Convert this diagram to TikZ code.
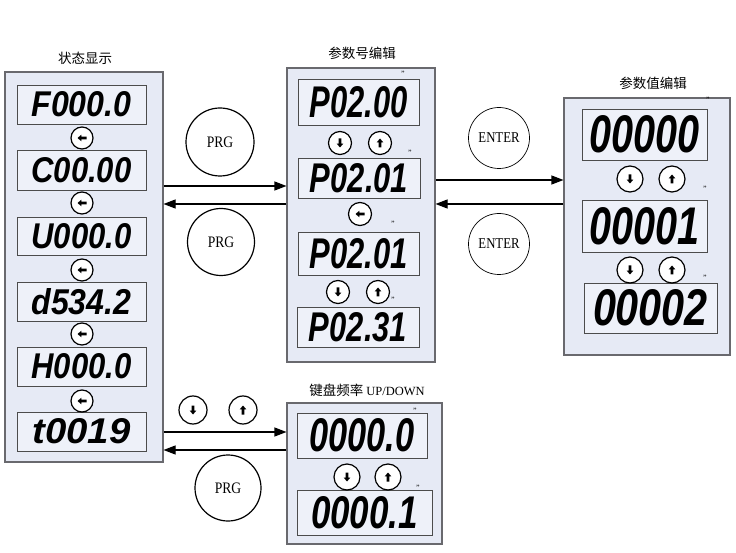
\documentclass[tikz,border=0pt]{standalone}
\usepackage{fontspec}
\setmainfont{Liberation Serif}
\newfontfamily\cjk{Noto Sans CJK SC}
\newfontfamily\lcd{Liberation Sans}
\newfontfamily\btnfont[FakeStretch=0.85]{Liberation Serif}
\usetikzlibrary{arrows.meta}
\definecolor{panelc}{RGB}{230,234,245}
\definecolor{dispc}{RGB}{238,241,249}
\definecolor{edgec}{RGB}{105,105,110}
\newcommand{\lcdtxt}[3]{\resizebox{#1pt}{#2pt}{\lcd\bfseries\itshape #3}}
\begin{document}
\begin{tikzpicture}[x=1pt,y=-1pt,
  panel/.style={draw=edgec, fill=panelc, line width=1.1pt, inner sep=0pt},
  disp/.style={draw=black!70, fill=dispc, line width=0.8pt, inner sep=0pt},
  btn/.style={circle, draw=black, fill=white, line width=1.2pt, minimum size=#1, inner sep=0pt},
  btn/.default=23pt,
  bigbtn/.style={circle, draw=black, fill=white, line width=1.2pt, minimum size=#1, inner sep=0pt, font=\btnfont\fontsize{16}{16}\selectfont},
  entbtn/.style={circle, draw=black, fill=white, line width=0.7pt, minimum size=61pt, inner sep=0pt, font=\btnfont\fontsize{15}{15}\selectfont},
  title/.style={font=\cjk\fontsize{13.5}{13.5}\selectfont, inner sep=0pt},
  tickmark/.style={font=\fontsize{8}{8}\selectfont, inner sep=0pt},
  conn/.style={line width=1.1pt, -{Triangle[length=12pt,width=9pt]}},
  larr/.pic={\fill (-4.5,0) -- (-0.6,-3.3) -- (-0.6,-1.3) -- (4.5,-1.3) -- (4.5,1.3) -- (-0.6,1.3) -- (-0.6,3.3) -- cycle;},
  darr/.pic={\fill (0,4.5) -- (3.3,0.6) -- (1.3,0.6) -- (1.3,-4.5) -- (-1.3,-4.5) -- (-1.3,0.6) -- (-3.3,0.6) -- cycle;},
  uarr/.pic={\fill (0,-4.5) -- (3.3,-0.6) -- (1.3,-0.6) -- (1.3,4.5) -- (-1.3,4.5) -- (-1.3,-0.6) -- (-3.3,-0.6) -- cycle;}
]
\useasboundingbox[fill=white] (0,0) rectangle (736,553);

% ---------- titles
\node[title] (tL) at (85,58) {状态显示};
\node[title] (tM) at (362,53) {参数号编辑};
\node[title] (tR) at (653,83) {参数值编辑};
\node[title] (tB) at (367,390) {键盘频率 {\rmfamily\fontsize{12.5}{12.5}\selectfont UP/DOWN}};

% ---------- panels
\node[panel, minimum width=158pt, minimum height=390pt] (L) at (84,267) {};
\node[panel, minimum width=148pt, minimum height=294pt] (M) at (361,215) {};
\node[panel, minimum width=166pt, minimum height=257pt] (R) at (647,226.5) {};
\node[panel, minimum width=155pt, minimum height=141pt] (B) at (364.5,473.5) {};

% ---------- left displays
\node[disp, minimum width=129pt, minimum height=39pt] (L1) at (81.5,104.5) {\lcdtxt{100}{25}{F000.0}};
\node[disp, minimum width=129pt, minimum height=40pt] (L2) at (81.5,170) {\lcdtxt{100}{25}{C00.00}};
\node[disp, minimum width=129pt, minimum height=38pt] (L3) at (81.5,236) {\lcdtxt{100}{25}{U000.0}};
\node[disp, minimum width=129pt, minimum height=39pt] (L4) at (81.5,301.5) {\lcdtxt{100}{26}{d534.2}};
\node[disp, minimum width=129pt, minimum height=39pt] (L5) at (81.5,366.5) {\lcdtxt{100}{25}{H000.0}};
\node[disp, minimum width=129pt, minimum height=39pt] (L6) at (81.5,431.5) {\lcdtxt{98}{25}{t0019}};
\foreach \n/\y in {1/138,2/203,3/270,4/334,5/401}{
  \node[btn=22pt] (lb\n) at (82,\y) {};
  \pic at (lb\n) {larr};
}

% ---------- middle displays
\node[disp, minimum width=121pt, minimum height=46pt] (M1) at (358.5,102) {\lcdtxt{98}{31}{P02.00}};
\node[disp, minimum width=122pt, minimum height=40pt] (M2) at (359,178) {\lcdtxt{98}{29}{P02.01}};
\node[disp, minimum width=121pt, minimum height=43pt] (M3) at (358.5,253.5) {\lcdtxt{98}{30}{P02.01}};
\node[disp, minimum width=122pt, minimum height=40pt] (M4) at (358,327) {\lcdtxt{98}{29}{P02.31}};
\node[btn] (md1) at (340,143) {}; \pic at (md1) {darr};
\node[btn] (mu1) at (380,143) {}; \pic at (mu1) {uarr};
\node[btn] (ml1) at (360,214) {}; \pic at (ml1) {larr};
\node[btn] (md2) at (338,292) {}; \pic at (md2) {darr};
\node[btn] (mu2) at (378,292) {}; \pic at (mu2) {uarr};
\node[tickmark] (mk1) at (403,74) {"};
\node[tickmark] (mk2) at (410,153) {"};
\node[tickmark] (mk3) at (393,224) {"};
\node[tickmark] (mk4) at (393,300) {"};

% ---------- right displays
\node[disp, minimum width=125pt, minimum height=51pt] (R1) at (644.5,134.5) {\lcdtxt{110}{37}{00000}};
\node[disp, minimum width=125pt, minimum height=52pt] (R2) at (644.5,226) {\lcdtxt{110}{37}{00001}};
\node[disp, minimum width=133pt, minimum height=50pt] (R3) at (650.5,308) {\lcdtxt{115}{36}{00002}};
\node[btn=26pt] (rd1) at (630,179) {}; \pic at (rd1) {darr};
\node[btn=26pt] (ru1) at (672,179) {}; \pic at (ru1) {uarr};
\node[btn=26pt] (rd2) at (630,270) {}; \pic at (rd2) {darr};
\node[btn=26pt] (ru2) at (672,270) {}; \pic at (ru2) {uarr};
\node[tickmark] (mk5) at (708,100) {"};
\node[tickmark] (mk6) at (705,189) {"};
\node[tickmark] (mk7) at (705,278) {"};

% ---------- bottom displays
\node[disp, minimum width=130pt, minimum height=45pt] (B1) at (362,435.5) {\lcdtxt{105}{33}{0000.0}};
\node[disp, minimum width=135pt, minimum height=45pt] (B2) at (364.5,512.5) {\lcdtxt{107}{32}{0000.1}};
\node[btn=26pt] (bd1) at (347,477) {}; \pic at (bd1) {darr};
\node[btn=26pt] (bu1) at (388,477) {}; \pic at (bu1) {uarr};
\node[tickmark] (mk8) at (415,411) {"};
\node[tickmark] (mk9) at (418,488) {"};

% ---------- keys between panels
\node[bigbtn=68pt] (prg1) at (220,142) {PRG};
\node[bigbtn=67pt] (prg2) at (221,242) {PRG};
\node[bigbtn=66pt] (prg3) at (228,488) {PRG};
\node[entbtn] (ent1) at (499,138) {ENTER};
\node[entbtn] (ent2) at (499,244) {ENTER};
\node[btn=28pt] (od) at (193,410) {}; \pic at (od) {darr};
\node[btn=28pt] (ou) at (243,410) {}; \pic at (ou) {uarr};

% ---------- connectors
\draw[conn] (L.east |- 0,186) -- (M.west |- 0,186);
\draw[conn] (M.west |- 0,204) -- (L.east |- 0,204);
\draw[conn] (M.east |- 0,180) -- (R.west |- 0,180);
\draw[conn] (R.west |- 0,204) -- (M.east |- 0,204);
\draw[conn] (L.east |- 0,432) -- (B.west |- 0,432);
\draw[conn] (B.west |- 0,450) -- (L.east |- 0,450);
\end{tikzpicture}
\end{document}
